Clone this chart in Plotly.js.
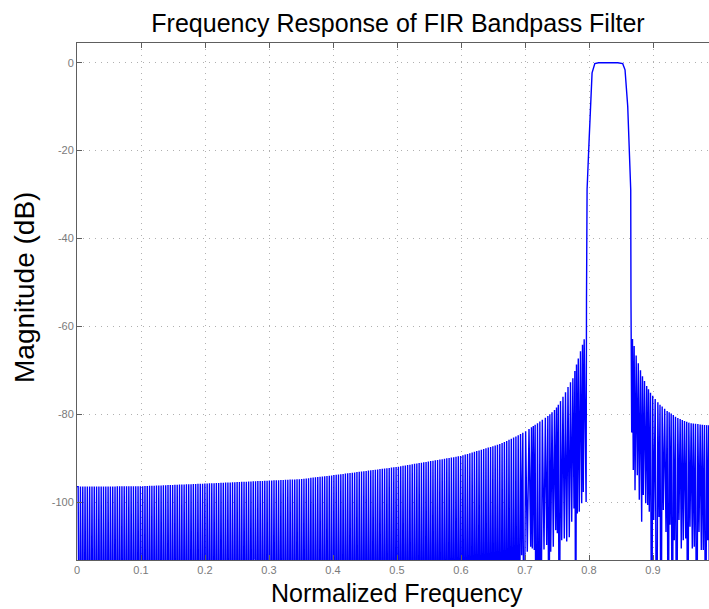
<!DOCTYPE html>
<html>
<head>
<meta charset="utf-8">
<script src="https://cdn.plot.ly/plotly-3.0.1.min.js"></script>
<style>
html,body{margin:0;padding:0;background:#fff;overflow:hidden;}
#chart{width:709px;height:609px;}
</style>
</head>
<body>
<div id="chart"></div>
<script>
// ---------- data ----------
const xTickVals = [0, 0.1, 0.2, 0.3, 0.4, 0.5, 0.6, 0.7, 0.8, 0.9];
const xTickText = ['0', '0.1', '0.2', '0.3', '0.4', '0.5', '0.6', '0.7', '0.8', '0.9'];
const yTickVals = [0, -20, -40, -60, -80, -100];
const yTickText = ['0', '-20', '-40', '-60', '-80', '-100'];
const titleText = 'Frequency Response of FIR Bandpass Filter';
const xTitleText = 'Normalized Frequency';
const yTitleText = 'Magnitude (dB)';

// stopband sidelobe peak envelope, lower stopband (normalized freq, dB)
const leftEnvF  = [0, 0.1, 0.2, 0.348, 0.4, 0.5, 0.6, 0.661, 0.68, 0.70, 0.72, 0.735, 0.748, 0.756, 0.763, 0.770, 0.775, 0.781, 0.785, 0.789, 0.7925];
const leftEnvDb = [-96.5, -96.4, -95.8, -94.8, -93.9, -92.0, -89.5, -86.8, -85.5, -84.0, -82.0, -80.5, -78.8, -76.9, -75.1, -73.0, -71.8, -68.4, -66.5, -64.6, -62.9];
// sidelobe spacing in the far stopband
const lobeStep = 0.0036;
// depth of nulls that fall below the axis bottom
const floorDb = -150;
// null positions and depths close to the lower transition band
const leftNullF  = [0.6948, 0.6984, 0.7036, 0.7089, 0.7114, 0.7145, 0.7172, 0.7219, 0.7245, 0.7297, 0.7339, 0.7375, 0.7402, 0.7442, 0.7480, 0.7505, 0.7536, 0.7573, 0.7614, 0.7652, 0.7692, 0.7730, 0.7766, 0.7792, 0.7817, 0.7848, 0.7886, 0.7911, 0.7938];
const leftNullDb = [-112.1, -150, -111.3, -110.2, -110.6, -110.9, -150, -150, -150, -110.8, -109.8, -150, -111.3, -110.2, -106.4, -107.1, -150, -108.7, -108.3, -109.0, -108.0, -104.5, -101.5, -150, -102.6, -102.2, -100.3, -97.7, -88.9];

// transition bands and passband
const passF  = [0.7955, 0.7961, 0.7970, 0.8002, 0.8028, 0.8048, 0.8091, 0.8150, 0.8300, 0.8450, 0.8527, 0.8563, 0.8605, 0.8630, 0.8652, 0.8656, 0.8667];
const passDb = [-100, -54, -28.9, -17.5, -6.1, -2.3, -0.2, 0, 0, 0, -0.2, -1.6, -9.9, -19.8, -28.9, -54, -84.2];

// upper stopband sidelobe peak envelope
const rightEnvF  = [0.8683, 0.8734, 0.8786, 0.8839, 0.8902, 0.8964, 0.9031, 0.9099, 0.9161, 0.9224, 0.9292, 0.9355, 0.9422, 0.9484, 0.9552, 0.9614, 0.9683, 0.9745, 0.9844, 0.9900];
const rightEnvDb = [-62.9, -66.5, -69.2, -71.5, -73.6, -75.2, -76.5, -77.7, -78.5, -79.3, -79.95, -80.6, -81.1, -81.5, -81.9, -82.1, -82.2, -82.4, -82.5, -82.5];
// upper stopband nulls
const rightNullF  = [0.8692, 0.8719, 0.8755, 0.8786, 0.8823, 0.8848, 0.8886, 0.8917, 0.8942, 0.8980, 0.9011, 0.9058, 0.9094, 0.9125, 0.9161, 0.9203, 0.9239, 0.9266, 0.9302, 0.9333, 0.9370, 0.9406, 0.9442, 0.9473, 0.9511, 0.9542, 0.9578, 0.9614, 0.9645, 0.9683, 0.9719, 0.9755, 0.9786, 0.9823, 0.9855];
const rightNullDb = [-92.7, -97.3, -93.9, -99.5, -104.5, -98.4, -100.3, -100.7, -102.2, -150, -104.1, -150, -103.4, -150, -101.8, -106.8, -150, -105.2, -150, -108.7, -150, -104.1, -110.6, -108.7, -108.3, -150, -105.6, -110.6, -110.2, -150, -106.8, -110.9, -110.9, -150, -108.7];

// ---------- build the response trace ----------
function envAt(xs, ys, x) {
  if (x <= xs[0]) return ys[0];
  for (let i = 1; i < xs.length; i++) {
    if (x <= xs[i]) {
      const t = (x - xs[i - 1]) / (xs[i] - xs[i - 1]);
      return ys[i - 1] + t * (ys[i] - ys[i - 1]);
    }
  }
  return ys[ys.length - 1];
}
const F = [], M = [];
// far lower stopband, lobes laid out so they join the near-band nulls evenly
const x0 = leftNullF[0];
const nFar = Math.floor(x0 / lobeStep - 0.5);
F.push(0); M.push(envAt(leftEnvF, leftEnvDb, 0));
for (let k = nFar; k >= 1; k--) {
  const pf = x0 - (k + 0.5) * lobeStep;
  if (pf > 0) { F.push(pf); M.push(envAt(leftEnvF, leftEnvDb, pf)); }
  F.push(x0 - k * lobeStep); M.push(floorDb);
}
// near lower stopband
for (let i = 0; i < leftNullF.length; i++) {
  const prev = i === 0 ? x0 - lobeStep : leftNullF[i - 1];
  const pf = (prev + leftNullF[i]) / 2;
  F.push(pf); M.push(envAt(leftEnvF, leftEnvDb, pf));
  F.push(leftNullF[i]); M.push(leftNullDb[i]);
}
// pass band
for (let i = 0; i < passF.length; i++) { F.push(passF[i]); M.push(passDb[i]); }
// upper stopband
for (let i = 0; i < rightNullF.length; i++) {
  const prev = i === 0 ? passF[passF.length - 1] : rightNullF[i - 1];
  const pf = (prev + rightNullF[i]) / 2;
  F.push(pf); M.push(envAt(rightEnvF, rightEnvDb, pf));
  F.push(rightNullF[i]); M.push(rightNullDb[i]);
}
{
  const last = rightNullF[rightNullF.length - 1];
  F.push(last + 0.0016); M.push(envAt(rightEnvF, rightEnvDb, last + 0.0016));
  F.push(last + 0.0032); M.push(floorDb);
}

const FONT = 'Liberation Sans, Arial, Helvetica, sans-serif';
const AX = '#5e5e5e';

const trace = {
  x: F, y: M, type: 'scatter', mode: 'lines',
  line: {color: '#0000ff', width: 1.4}, hoverinfo: 'skip', cliponaxis: true
};

const layout = {
  width: 709, height: 609,
  margin: {l: 77, r: 0, t: 43, b: 49, pad: 0},
  paper_bgcolor: '#ffffff', plot_bgcolor: '#ffffff',
  showlegend: false,
  font: {family: FONT, color: '#000'},
  title: {
    text: titleText,
    font: {family: FONT, size: 25, color: '#000'},
    xref: 'container', x: 398 / 709, xanchor: 'center',
    yref: 'container', y: 1 - 23 / 609, yanchor: 'middle'
  },
  xaxis: {
    range: [0, 0.9875], autorange: false,
    tickmode: 'array', tickvals: xTickVals, ticktext: xTickText,
    ticks: 'inside', ticklen: 5, tickwidth: 1, tickcolor: AX,
    showline: true, linecolor: AX, linewidth: 1, mirror: 'ticks',
    showgrid: true, gridcolor: '#b0b0b0', gridwidth: 1, griddash: '1px,5px',
    zeroline: false,
    tickfont: {family: FONT, size: 11, color: '#7a7a7a'},
    title: {text: ''}
  },
  yaxis: {
    range: [-113.2, 4.5], autorange: false,
    tickmode: 'array', tickvals: yTickVals, ticktext: yTickText,
    ticks: 'inside', ticklen: 5, tickwidth: 1, tickcolor: AX,
    showline: true, linecolor: AX, linewidth: 1, mirror: false,
    showgrid: true, gridcolor: '#b0b0b0', gridwidth: 1, griddash: '1px,5px',
    zeroline: false,
    tickfont: {family: FONT, size: 11, color: '#7a7a7a'},
    title: {text: ''}
  },
  annotations: [
    {
      text: xTitleText, showarrow: false,
      xref: 'paper', x: (397 - 77) / 632, xanchor: 'center',
      yref: 'paper', y: -(593 - 560) / 517, yanchor: 'middle',
      font: {family: FONT, size: 25, color: '#000'}
    },
    {
      text: yTitleText, showarrow: false, textangle: -90,
      xref: 'paper', x: (24 - 77) / 632, xanchor: 'center',
      yref: 'paper', y: (560 - 288) / 517, yanchor: 'middle',
      font: {family: FONT, size: 28, color: '#000'}
    }
  ]
};

Plotly.newPlot('chart', [trace], layout, {staticPlot: true, displayModeBar: false});
</script>
</body>
</html>
